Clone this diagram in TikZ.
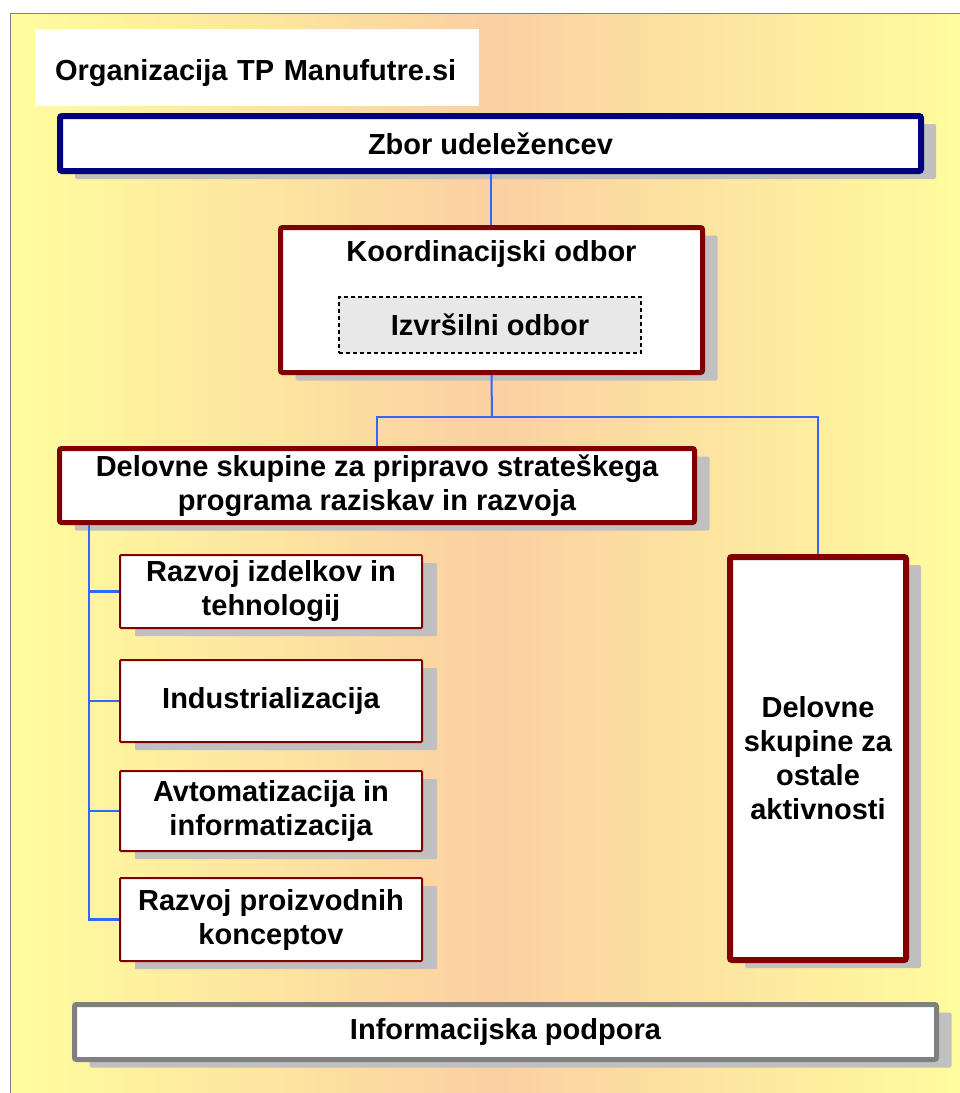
\documentclass[tikz,border=0pt]{standalone}
\usepackage{fontspec}
\setmainfont{Liberation Sans}
\usetikzlibrary{shadows,positioning}
\definecolor{navy}{RGB}{0,0,128}
\definecolor{boxred}{RGB}{128,0,0}
\definecolor{shadowgray}{RGB}{192,192,192}
\definecolor{infogray}{RGB}{128,128,128}
\definecolor{izvrgray}{RGB}{232,232,232}
\definecolor{wireblue}{RGB}{51,102,255}
\definecolor{bgyel}{RGB}{255,253,158}
\definecolor{bgpeach}{RGB}{251,208,162}

\begin{document}
\begin{tikzpicture}[x=1pt, y=-1pt,
                    every node/.style={font=\fontsize{29}{34}\selectfont\bfseries, align=center, inner sep=0pt},
                    mainbox/.style={draw=boxred, fill=white, line width=5pt, rounded corners=2pt,
                      drop shadow={shadow xshift=15pt, shadow yshift=-8pt, fill=shadowgray, opacity=1}},
                    subbox/.style={mainbox, line width=2pt, rounded corners=1pt, minimum width=302},
                    wire/.style={draw=wireblue, line width=2.5pt}]
\useasboundingbox (0,0) rectangle (960,1093);
\shadedraw[left color=bgyel, right color=bgyel, middle color=bgpeach, draw=infogray, line width=1pt] (10,13) rectangle (975,1110);
    \node[fill=white, minimum width=444, minimum height=77, text width=404, align=left] (title) at (257,67.5) {\raisebox{-6pt}[\height][\depth]{Organizacija TP Manufutre.si}};
\node[mainbox, draw=navy, line width=6pt, minimum width=861, minimum height=55] (zbor) at (490.5,143.5) {Zbor udeležencev};
\node[mainbox, minimum width=422, minimum height=145] (koord) at (491.5,300) {};
\node (koordt) at (491.5,254) {Koordinacijski odbor};
\node[draw, dash pattern=on 4pt off 3pt, fill=izvrgray, line width=2pt, minimum width=302, minimum height=56] (izvr) at (490,325) {Izvršilni odbor};
\node[mainbox, minimum width=635, minimum height=74] (dsr) at (377,485.5) {Delovne skupine za pripravo strateškega\\programa raziskav in razvoja};
\node[subbox, minimum height=73] (r1) at (271,591.5) {Razvoj izdelkov in\\tehnologij};
\node[subbox, minimum height=82] (r2) at (271,701) {Industrializacija};
\node[subbox, minimum height=80] (r3) at (271,811) {Avtomatizacija in\\informatizacija};
\node[subbox, minimum height=83] (r4) at (271,919.5) {Razvoj proizvodnih\\konceptov};
\node[mainbox, line width=6pt, minimum width=176, minimum height=403] (dso) at (818,758.5) {Delovne\\skupine za\\ostale\\aktivnosti};
\node[mainbox, draw=infogray, minimum width=862, minimum height=55] (info) at (505.5,1032) {Informacijska podpora};
    \coordinate (jn) at (492,417);
\coordinate (tk) at (89,525);
    \path[wire, line width=2pt]
(zbor.south) edge (zbor.south |- koord.north)
(koord.south) edge (jn);
    \draw[wire, line width=2pt] (jn) -| (dsr.north);
\draw[wire, line width=2pt] (jn) -| (dso.north);
    \draw[wire] (tk) |- (r4.west);
\foreach \i in {1,2,3} \draw[wire] (tk |- r\i.west) -- (r\i.west);
\end{tikzpicture}
\end{document}
